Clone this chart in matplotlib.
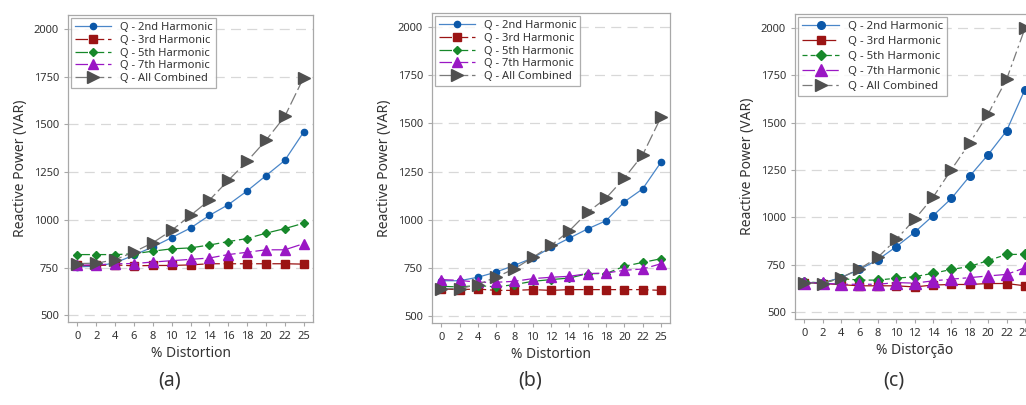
import numpy as np
import matplotlib.pyplot as plt

plt.rcParams['font.family'] = ['Noto Sans', 'DejaVu Sans']

# x categories (% distortion)
distortion = ['0', '2', '4', '6', '8', '10', '12', '14', '16', '18', '20', '22', '25']

# panel (a)
a_h2 = [754, 757, 775, 815, 858, 907, 957, 1023, 1079, 1151, 1231, 1311, 1459]
a_h3 = [761, 761, 764, 759, 761, 761, 764, 770, 770, 770, 770, 770, 768]
a_h5 = [818, 818, 818, 822, 836, 848, 853, 868, 886, 902, 930, 954, 982]
a_h7 = [762, 764, 770, 771, 779, 786, 793, 800, 818, 830, 843, 843, 875]
a_all = [771, 773, 791, 832, 880, 945, 1023, 1103, 1206, 1306, 1416, 1541, 1744]

# panel (b)
b_h2 = [684, 684, 702, 729, 764, 802, 857, 905, 953, 995, 1093, 1160, 1298]
b_h3 = [641, 638, 641, 634, 634, 638, 634, 638, 638, 638, 638, 638, 634]
b_h5 = [655, 652, 659, 652, 664, 681, 690, 698, 721, 721, 759, 779, 798]
b_h7 = [690, 686, 676, 676, 681, 695, 702, 707, 721, 724, 738, 745, 772]
b_all = [643, 643, 664, 703, 746, 805, 867, 943, 1039, 1112, 1216, 1336, 1531]

# panel (c)
c_h2 = [658, 656, 683, 726, 777, 846, 922, 1009, 1100, 1218, 1331, 1456, 1674]
c_h3 = [657, 652, 646, 640, 640, 640, 634, 644, 647, 647, 652, 652, 640]
c_h5 = [661, 655, 678, 670, 670, 680, 688, 706, 726, 742, 773, 805, 806]
c_h7 = [657, 654, 648, 648, 648, 657, 654, 666, 675, 683, 692, 700, 735]
c_all = [655, 652, 683, 729, 790, 884, 990, 1106, 1252, 1393, 1546, 1727, 1996]

labels = ['Q - 2nd Harmonic', 'Q - 3rd Harmonic', 'Q - 5th Harmonic',
          'Q - 7th Harmonic', 'Q - All Combined']

blue_l, blue_m = '#4a86c8', '#0b57a8'
red = '#9b1414'
green = '#17882a'
purple = '#9a17c4'
gray_l, gray_m = '#7a7a7a', '#505050'
txt = '#333333'

x = np.arange(len(distortion))


def panel(rect, series, xlab, letter, big=False, styles=None):
    ax = fig.add_axes(rect)
    h2, h3, h5, h7, hall = series
    ms = 1.0 if not big else 1.15
    ax.plot(x, h2, color=blue_l, lw=0.9, ls=styles[0], marker='o', ms=(4.5 if not big else 5.5),
            mfc=blue_m, mec=blue_m, label=labels[0])
    ax.plot(x, h3, color=red, lw=0.9, ls=styles[1], marker='s', ms=5.5 * ms,
            mfc=red, mec=red, label=labels[1])
    ax.plot(x, h5, color=green, lw=0.9, ls=styles[2], marker='D', ms=4.5 * ms,
            mfc=green, mec=green, label=labels[2])
    ax.plot(x, h7, color=purple, lw=0.9, ls=styles[3], marker='^', ms=7 * ms,
            mfc=purple, mec=purple, label=labels[3])
    ax.plot(x, hall, color=gray_l, lw=0.9, ls=styles[4], marker='>', ms=8 * ms,
            mfc=gray_m, mec=gray_m, label=labels[4])
    ax.set_xlim(-0.5, 12.5)
    ax.set_ylim(465, 2072)
    ax.set_xticks(x)
    ax.set_xticklabels(distortion)
    ax.set_yticks([500, 750, 1000, 1250, 1500, 1750, 2000])
    ax.grid(axis='y', color='#d8d8d8', ls=(0, (8, 5)), lw=0.9)
    ax.set_axisbelow(True)
    for s in ax.spines.values():
        s.set_color('#a8a8a8')
        s.set_linewidth(0.9)
    ax.tick_params(colors='#a8a8a8', labelcolor=txt, labelsize=8, length=3, width=0.8)
    ax.set_ylabel('Reactive Power (VAR)', fontsize=10, color=txt, labelpad=4)
    ax.set_xlabel(xlab, fontsize=10, color=txt, labelpad=3)
    leg = ax.legend(loc='upper left', fontsize=8 if not big else 8.2, frameon=True,
                    fancybox=False, edgecolor='#9a9a9a', borderaxespad=0.3,
                    handlelength=3.2, labelspacing=0.15 if not big else 0.35,
                    borderpad=0.35, handletextpad=0.8)
    leg.get_frame().set_linewidth(0.9)
    for t in leg.get_texts():
        t.set_color(txt)
    fig.text(rect[0] + rect[2] / 2 - 0.02, 0.035, letter, fontsize=14, color=txt,
             ha='center', va='bottom')
    return ax


fig = plt.figure(figsize=(10.26, 4.05), dpi=100)

ab = ['-', (0, (10, 3)), (0, (10, 3)), (0, (10, 3)), (0, (10, 3))]
cs = ['-', (0, (12, 3)), (0, (4, 2.5)), (0, (10, 3, 3, 3)), (0, (8, 3, 2, 3))]

panel([0.0663, 0.2049, 0.2388, 0.758], [a_h2, a_h3, a_h5, a_h7, a_all],
      '% Distortion', '(a)', styles=ab)
panel([0.4211, 0.2025, 0.232, 0.7654], [b_h2, b_h3, b_h5, b_h7, b_all],
      '% Distortion', '(b)', styles=ab)
panel([0.7749, 0.2123, 0.233, 0.7531], [c_h2, c_h3, c_h5, c_h7, c_all],
      '% Distorção', '(c)', big=True, styles=cs)

fig.savefig('out.png', dpi=100)
